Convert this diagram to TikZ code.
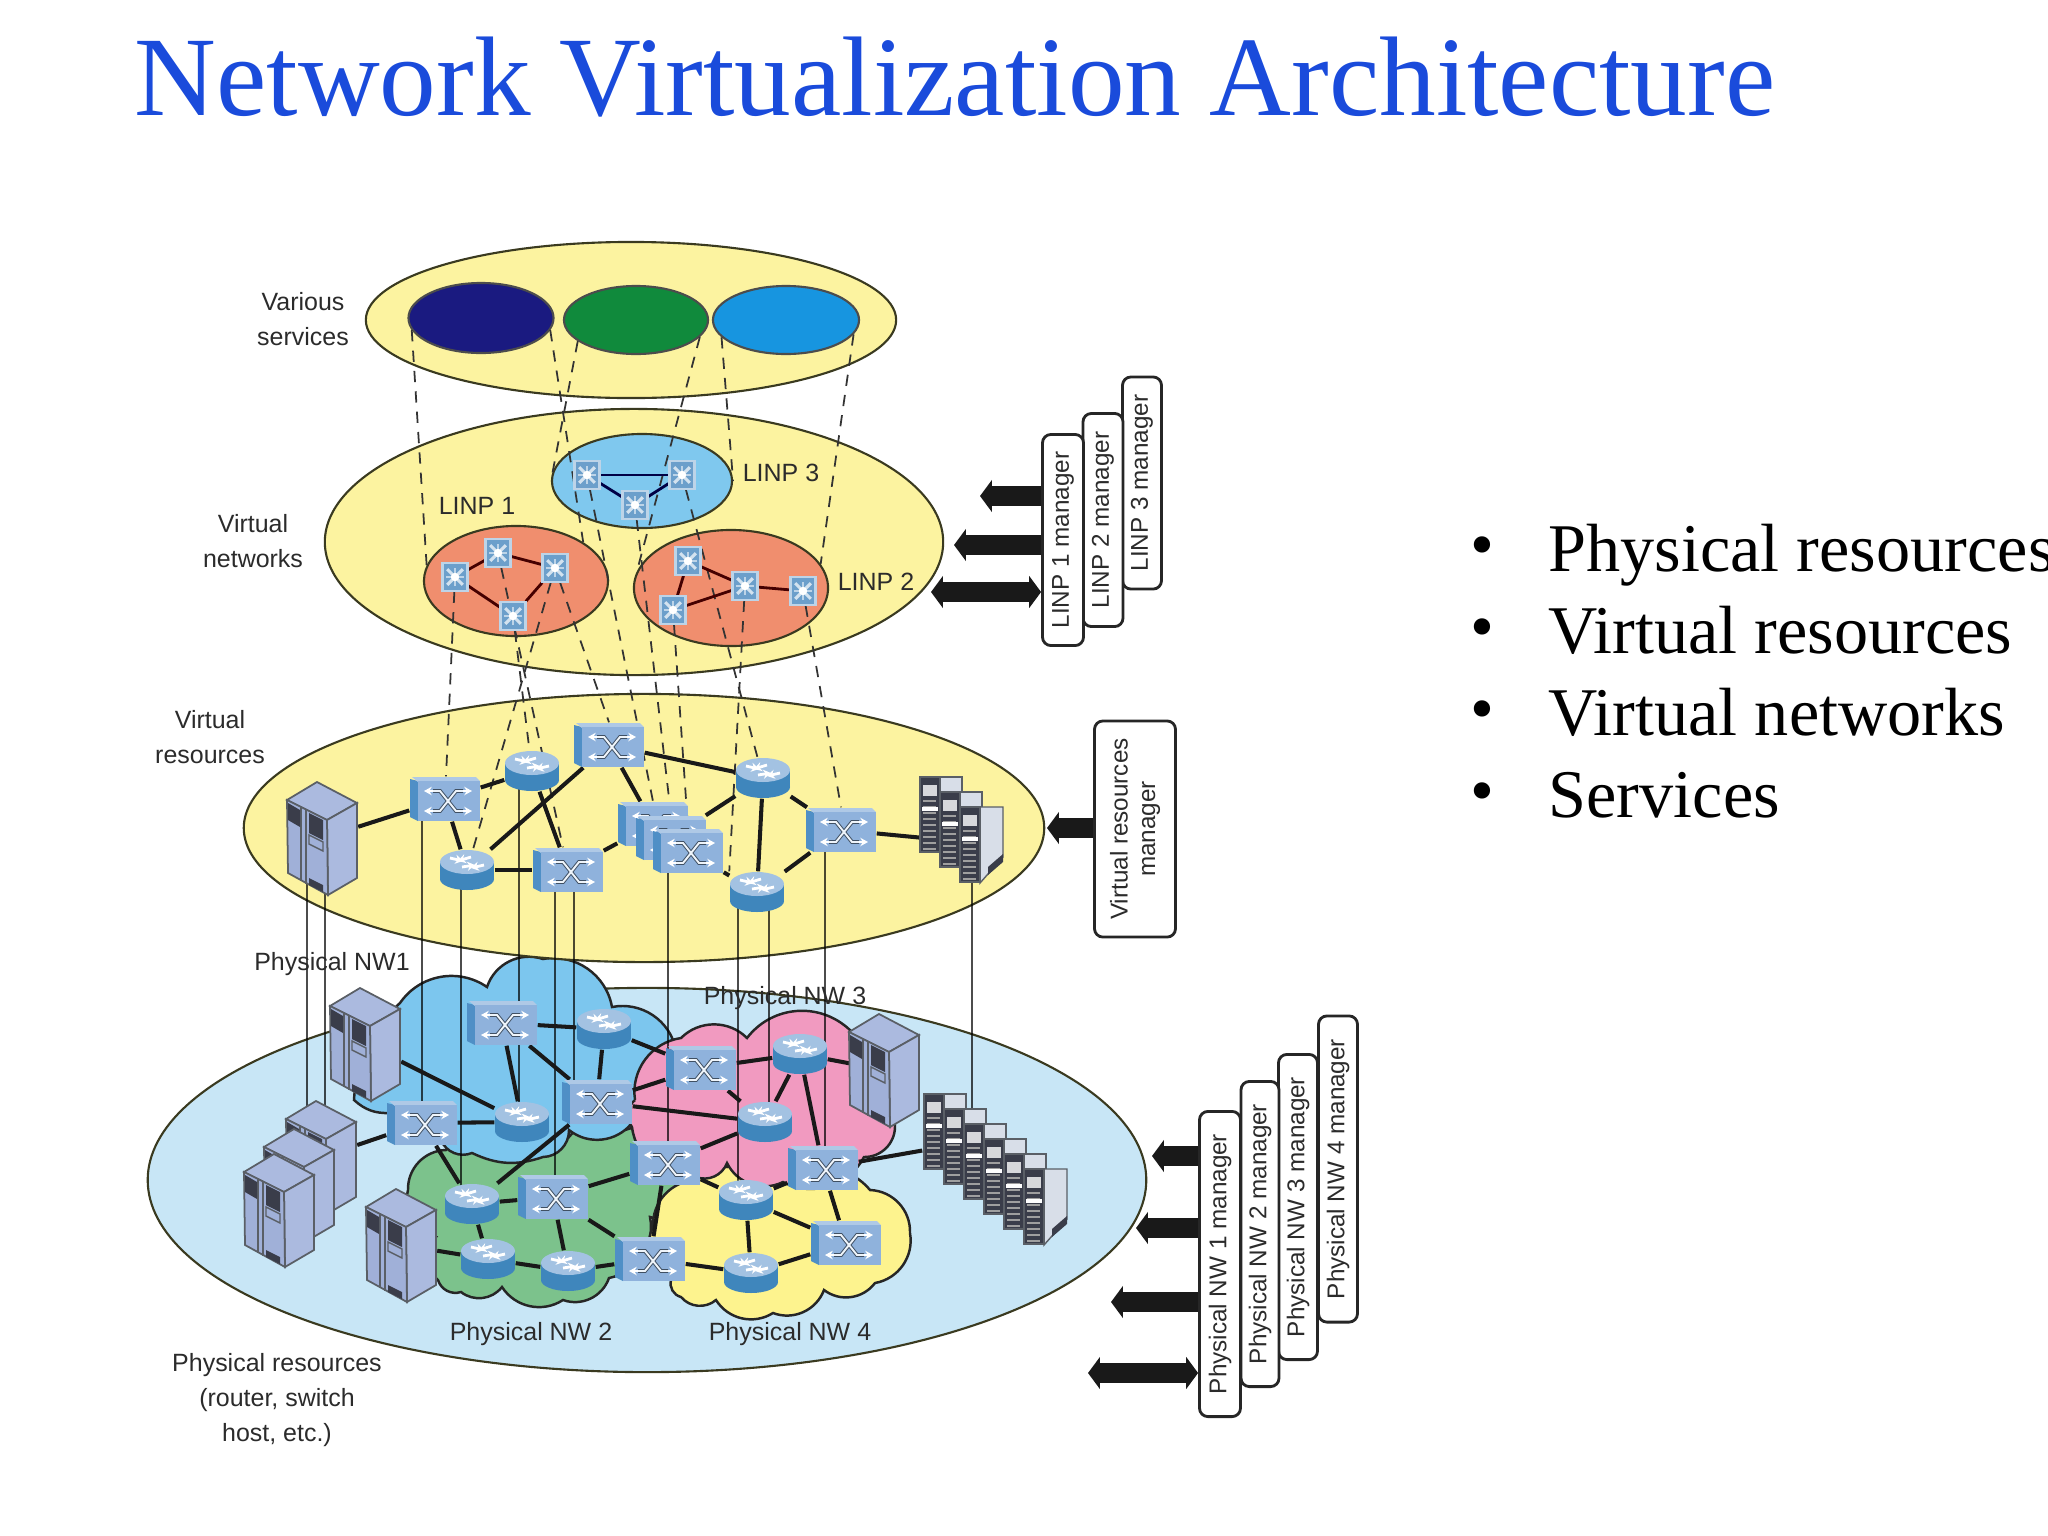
\documentclass[tikz,border=0pt]{standalone}
\usepackage{fontspec}
\usepackage{xcolor}
\usepackage{tikz}
\usetikzlibrary{shapes.geometric,arrows.meta}

\setmainfont{Liberation Serif}
\setsansfont{Liberation Sans}

\definecolor{titleblue}{HTML}{1A4BDB}
\definecolor{layeryellow}{HTML}{FCF3A0}
\definecolor{layerblue}{HTML}{C8E6F6}
\definecolor{ovalline}{HTML}{3A3A20}
\definecolor{svcnavy}{HTML}{1A1A80}
\definecolor{svcgreen}{HTML}{108A3C}
\definecolor{svcblue}{HTML}{1795E0}
\definecolor{linpblue}{HTML}{7FC8EE}
\definecolor{linpred}{HTML}{F08E6E}
\definecolor{nwblue}{HTML}{7CC6EE}
\definecolor{nwpink}{HTML}{F19AC0}
\definecolor{nwgreen}{HTML}{7CC28C}
\definecolor{nwyellow}{HTML}{FDF38E}
\definecolor{swfront}{HTML}{8FB2DC}
\definecolor{swtop}{HTML}{AFC9E6}
\definecolor{swside}{HTML}{4F8FC6}
\definecolor{rttop}{HTML}{A3C2E2}
\definecolor{rtbody}{HTML}{3F86BC}
\definecolor{hostlight}{HTML}{ABBADF}
\definecolor{hostmid}{HTML}{A0B0D8}
\definecolor{hostline}{HTML}{5A5F66}
\definecolor{rackdark}{HTML}{3A3D4A}
\definecolor{racklight}{HTML}{D8DEE8}
\definecolor{starblue}{HTML}{6C9FCB}
\definecolor{labelgray}{HTML}{2B2B2B}

\tikzset{
    oval/.style 2 args={ellipse,draw=ovalline,line width=.6pt,inner sep=0pt,minimum width=#1cm,minimum height=#2cm},
    swspot/.style={inner sep=0pt,minimum width=.70cm,minimum height=.44cm},
    rtspot/.style={inner sep=0pt,minimum width=.54cm,minimum height=.40cm},
    hostspot/.style={inner sep=0pt,minimum width=.69cm,minimum height=1.12cm},
    starspot/.style={inner sep=0pt,minimum width=.25cm,minimum height=.28cm},
    bump/.style={bend left=45},
    flat/.style={bend left=22},
    cloud/.style={draw=black!85,line width=.7pt},
    netlink/.style={draw=black!90,line width=1.15pt},
    redlink/.style={draw=black!55!red!60!black,line width=.8pt},
    navylink/.style={draw=black!40!blue!45!black,line width=.8pt},
    dashlink/.style={draw=black!80,line width=.5pt,dash pattern=on 3.2pt off 2.6pt},
    tie/.style={draw=black,draw opacity=.7,line width=.7pt},
    bigarrow/.style={draw=black!90,line width=5.6pt,-{Triangle[length=3.4pt,width=9pt]}},
    bothways/.style={draw=black!90,line width=5.6pt,{Triangle[length=3.4pt,width=9pt]}-{Triangle[length=3.4pt,width=9pt]}},
    mgrbox/.style={draw=black!85,line width=.8pt,rounded corners=2.4pt,fill=white,rotate=90,inner sep=0pt,
        font=\sffamily\fontsize{6.9}{9.4}\selectfont,text=labelgray,align=center},
    lbl/.style={font=\sffamily\fontsize{7.1}{10}\selectfont,text=labelgray,align=center,inner sep=0pt},
    swicon/.pic={
        \fill[swside] (-35,-20) -- (-27,-18) -- (-27,22) -- (-35,18) -- cycle;
        \fill[swtop] (-33,-22) -- (31,-22) -- (35,-18) -- (-27,-17) -- cycle;
        \fill[swfront] (-27,-18) rectangle (35,22);
        \foreach \c/\w in {black!55!swfront/1.1pt,white!85!swfront/.55pt}{
            \draw[\c,line width=\w] (-12,-8) -- (-5,-8) -- (11,12) -- (18,12);
            \draw[\c,line width=\w] (-12,12) -- (-5,12) -- (11,-8) -- (18,-8);
        }
        \foreach \a/\b in {-12/-21,18/27}{
            \draw[white,line width=.5pt,-{Stealth[length=2.2pt,width=2.4pt]}] (\a,-8) -- (\b,-8);
            \draw[white,line width=.5pt,-{Stealth[length=2.2pt,width=2.4pt]}] (\a,12) -- (\b,12);
        }
    },
    rticon/.pic={
        \fill[rtbody] (-27,-8) rectangle (27,9);
        \fill[rtbody] (0,9) ellipse [x radius=27,y radius=11];
        \fill[rttop] (0,-8) ellipse [x radius=27,y radius=12];
        \foreach \a/\b/\c/\d in {-17/-12/-4/-9,4/-13/-9/-9,-5/-3/8/-5,17/-5/4/-2}{
            \draw[white,line width=.8pt,-{Stealth[length=2.2pt,width=2.6pt]}] (\a,\b) -- (\c,\d);
        }
    },
    staricon/.pic={
        \fill[starblue] (-12.5,-14) rectangle (12.5,14);
        \draw[white!55!starblue,line width=.7pt] (-12.5,-14) rectangle (12.5,14);
        \foreach \a in {45,135}{
            \draw[white!70!starblue,line width=.9pt,rotate=\a] (-11,0) -- (11,0);
        }
        \foreach \a in {0,90}{
            \draw[white!55!starblue,line width=.8pt,rotate=\a] (-9,0) -- (9,0);
        }
        \fill[white] (0,0) circle (4.2);
    },
    hosticon/.pic={
        \draw[hostline,line width=.5pt,fill=hostlight] (-6,-56) -- (34,-35) -- (4,-18) -- (-36,-38) -- cycle;
        \draw[hostline,line width=.5pt,fill=hostlight] (4,-18) -- (34,-35) -- (34,40) -- (5,57) -- cycle;
        \draw[hostline,line width=.5pt,fill=hostmid] (-36,-38) -- (4,-18) -- (5,57) -- (-35,35) -- cycle;
        \draw[hostline,line width=.4pt] (-22,-31) -- (-22,43);
        \draw[hostline,line width=.4pt] (-17,-28) -- (-17,46);
        \fill[rackdark] (-35,-35) -- (-23,-28) -- (-23,-11) -- (-35,-18) -- cycle;
        \fill[rackdark] (-14,-25) -- (0,-18) -- (0,2) -- (-14,-5) -- cycle;
        \draw[hostline,line width=.4pt] (-14,-3) -- (0,4) -- (0,13) -- (-14,6) -- cycle;
        \fill[rackdark] (-14,40) -- (0,47) -- (0,54) -- (-14,47) -- cycle;
    },
    rackbody/.pic={
        \fill[rackdark] (0,0) rectangle (20,75);
        \fill[white!80!rackdark] (3,8) rectangle (17,19);
        \foreach \s in {24,30,...,72}{
            \draw[gray!75,line width=.5pt] (3,\s) -- (16,\s);
        }
        \draw[white,line width=1pt] (2,32) -- (18,32);
        \draw[hostline,line width=.4pt] (0,0) rectangle (20,75);
    },
    rackunit/.pic={
        \draw[hostline,line width=.5pt,fill=racklight] (20,0) rectangle (42,20);
        \pic at (0,0) {rackbody};
    },
    rackend/.pic={
        \draw[hostline,line width=.4pt,fill=racklight] (20,0) -- (43,0) -- (43,50) -- (20,76) -- cycle;
        \fill[rackdark] (28,60) -- (43,47) -- (43,55) -- (28,68) -- cycle;
        \pic at (0,0) {rackbody};
    },
}

\begin{document}
\begin{tikzpicture}[x=.01cm,y=-.01cm]

    \clip (0,0) rectangle (2048,1536);

    % title and bullets
    \node[anchor=base west,inner sep=0pt,text=titleblue,font=\fontsize{32.2}{36}\selectfont] (title) at (134,115) {Network Virtualization Architecture};
    \foreach \n/\y/\t in {ba/571/Physical resources,bb/653/Virtual resources,bc/735/Virtual networks,bd/817/Services}{
        \node[anchor=base,inner sep=0pt,font=\fontsize{19.4}{22}\selectfont] (\n dot) at (1482,\y-4) {•};
        \node[anchor=base west,inner sep=0pt,font=\fontsize{19.4}{22}\selectfont] (\n) at (1548,\y) {\t};
    }

    % layers
    \node[oval={9.98}{3.84},fill=layerblue] (physlayer) at (647,1180) {};

    \draw[cloud,fill=nwgreen] (408,1190) to[bump] (446,1150) to[bump] (569,1137) to[bump] (625,1130) to[bump] (696,1163) to[bump] (681,1203) to[bump] (650,1217) to[bump] (609,1278) to[bump] (563,1300) to[bump] (502,1287) to[bump] (461,1292) to[bump] (438,1280) to[bump] (436,1237) to[bump] (408,1190);
    \draw[cloud,fill=nwyellow] (653,1227) to[bump] (696,1180) to[bump] (727,1167) to[bump] (783,1182) to[bump] (870,1190) to[bump] (910,1233) to[bump] (875,1283) to[bump] (824,1290) to[bump] (773,1313) to[bump] (716,1300) to[bump] (681,1297) to[bump] (671,1280) to[bump] (653,1227);
    \draw[cloud,fill=nwblue] (400,1003) to[bump] (487,987) to[bump] (543,959) to[bump] (612,1007) to[bump] (676,1050) to[bump] (635,1090) to[bump] (632,1123) to[bump] (569,1130) to[bump] (543,1157) to[flat] (472,1153) to[bump] (441,1140) to[bump] (390,1113) to[flat] (354,1100) to[flat] (400,1003);
    \draw[cloud,fill=nwpink] (635,1100) to[bump] (681,1038) to[bump] (747,1038) to[bump] (844,1025) to[bump] (854,1083) to[bump] (895,1127) to[bump] (864,1157) to[bump] (783,1182) to[bump] (727,1163) to[bump] (696,1177) to[bump] (632,1127) to[bump] (635,1100);

    \node[oval={8.00}{2.68},fill=layeryellow] (reslayer) at (644,828) {};
    \node[oval={6.18}{2.66},fill=layeryellow] (netlayer) at (634,542) {};
    \node[oval={5.30}{1.56},fill=layeryellow] (svclayer) at (631,320) {};

    \node[oval={1.45}{.70},fill=svcnavy,draw=black!70] (navy) at (481,318) {};
    \node[oval={1.44}{.68},fill=svcgreen,draw=black!70] (green) at (636,320) {};
    \node[oval={1.46}{.68},fill=svcblue,draw=black!70] (blue) at (786,320) {};

    \node[oval={1.80}{.94},fill=linpblue] (linpc) at (642,481) {};
    \node[oval={1.84}{1.10},fill=linpred] (linpa) at (516,581) {};
    \node[oval={1.94}{1.16},fill=linpred] (linpb) at (731,588) {};

    % spots for the devices
    \foreach \n/\x/\y in {vsa/445/799,vsb/609/745,vsc/841/830,vsd/568/870,vse/653/824,vsf/671/838,vsg/688/851,
        psa/502/1023,psb/597/1102,psc/422/1123,psd/701/1068,pse/665/1163,psf/823/1168,psg/553/1197,psh/650/1259,psi/846/1243}{
        \node[swspot] (\n) at (\x,\y) {};
    }
    \foreach \n/\x/\y in {vra/532/771,vrb/763/778,vrc/467/870,vrd/757/892,
        pra/604/1029,prb/522/1122,prc/800/1054,prd/765/1122,pre/472/1204,prf/488/1259,prg/568/1271,prh/746/1200,pri/751/1273}{
        \node[rtspot] (\n) at (\x,\y) {};
    }
    \foreach \n/\x/\y in {vhost/323/838,pha/366/1044,phb/322/1157,phc/300/1185,phd/280/1210,phe/402/1245,phf/885/1070}{
        \node[hostspot] (\n) at (\x,\y) {};
    }
    \foreach \n/\x/\y in {sta/455/577,stb/498/553,stc/555/568,std/513/616,ste/688/561,stf/745/586,stg/803/591,sth/673/610,sti/587/475,stj/682/475,stk/635/505}{
        \node[starspot] (\n) at (\x,\y) {};
    }
    \node[inner sep=0pt,minimum width=.84cm,minimum height=1.06cm] (vrack) at (962,830) {};
    \node[inner sep=0pt,minimum width=1.44cm,minimum height=1.53cm] (prack) at (995,1170) {};

    % dashed mappings
    \draw[dashlink] (navy.190) -- (linpa.170);
    \draw[dashlink] (navy.-10) -- (linpa.30);
    \draw[dashlink] (green.200) -- (linpc.180);
    \draw[dashlink] (green.-15) -- (linpb.170);
    \draw[dashlink] (blue.195) -- (linpc.0);
    \draw[dashlink] (blue.-12) -- (linpb.15);
    \foreach \a/\b in {sta/vsa,stb/vsd,stc/vrc,std/vra,stc/vsb.north,sti/vse.north,stk/vsf.north,stj/vrb,sth/vsg.north,stf/vrd.north west,stg/vsc.north}{
        \draw[dashlink] (\a) -- (\b);
    }

    % ties between the layers
    \foreach \x/\a/\b in {307/vhost/phb,325/vhost/phb,422/vsa/psc,461/vrc/pre,519/vra/prb,555/vsd/psg,574/vsd/psb,668/vsg/pse,738/vrd/prh,769/vrd/prd,825/vsc/psf,972/vrack/prack}{
        \draw[tie] (\x,0 |- \a) -- (\x,0 |- \b);
    }

    % links inside the layers
    \foreach \a/\b in {vhost/vsa,vsa/vra,vsa/vrc,vra/vsd,vrc/vsb,vsb/vse,vsb/vrb,vrc/vsd,vsd/vse,vrb/vsf,vrb/vsc,vrb/vrd,vsc/vrd,vsg/vrd,vsc/vrack.190,
        pha/prb,psa/pra,psa/prb,psa/psb,pra/psb,pra/psd,psc/prb,psb/psd,psb/prd,psb/pre,psd/prc,prc/phf,psd/prd,prc/prd,prc/psf,prd/pse,pse/psg,pse/psh,pse/prh,psf/prh,psf/psi,psf/prack.165,prh/psi,prh/pri,pri/psi,pri/psh,psc/pre,psc/phb,pre/psg,pre/prf,prf/prg,prf/phe,prg/psg,psg/psh,prg/psh}{
        \draw[netlink] (\a) -- (\b);
    }
    \foreach \a/\b in {sta/stb,stb/stc,sta/std,stc/std,ste/stf,stf/stg,stf/sth,ste/sth}{
        \draw[redlink] (\a) -- (\b);
    }
    \foreach \a/\b in {sti/stj,sti/stk,stj/stk}{
        \draw[navylink] (\a) -- (\b);
    }

    % devices
    \foreach \n in {vsa,vsb,vsc,vsd,vse,vsf,vsg,psa,psb,psc,psd,pse,psf,psg,psh,psi}{
        \pic at (\n) {swicon};
    }
    \foreach \n in {vra,vrb,vrc,vrd,pra,prb,prc,prd,pre,prf,prg,prh,pri}{
        \pic at (\n) {rticon};
    }
    \foreach \n in {vhost,pha,phb,phc,phd,phe,phf}{
        \pic at (\n) {hosticon};
    }
    \foreach \n in {sta,stb,stc,std,ste,stf,stg,sth,sti,stj,stk}{
        \pic at (\n) {staricon};
    }
    \foreach \k in {0,1}{
        \pic at (920+20*\k,777+15*\k) {rackunit};
    }
    \pic at (960,807) {rackend};
    \foreach \k in {0,...,4}{
        \pic at (924+20*\k,1094+15*\k) {rackunit};
    }
    \pic at (1024,1169) {rackend};

    % labels
    \node[lbl] (lblsvc) at (303,319) {Various\\services};
    \node[lbl] (lblnet) at (253,541) {Virtual\\networks};
    \node[lbl] (lblres) at (210,737) {Virtual\\resources};
    \node[lbl] (lblphys) at (277,1400) {Physical resources\\(router, switch\\host, etc.)};
    \node[lbl] (lblnwa) at (332,964) {Physical NW1};
    \node[lbl] (lblnwb) at (531,1334) {Physical NW 2};
    \node[lbl] (lblnwc) at (785,998) {Physical NW 3};
    \node[lbl] (lblnwd) at (790,1334) {Physical NW 4};
    \node[lbl] (lbllinpa) at (477,506) {LINP 1};
    \node[lbl] (lbllinpb) at (876,582) {LINP 2};
    \node[lbl] (lbllinpc) at (781,473) {LINP 3};

    % managers
    \node[mgrbox,minimum width=2.12cm,minimum height=.39cm] (mgrlc) at (1142,483) {LINP 3 manager};
    \node[mgrbox,minimum width=2.13cm,minimum height=.40cm] (mgrlb) at (1103,520) {LINP 2 manager};
    \node[mgrbox,minimum width=2.11cm,minimum height=.41cm] (mgrla) at (1063,540) {LINP 1 manager};
    \node[mgrbox,minimum width=2.16cm,minimum height=.81cm] (mgrres) at (1135,829) {Virtual resources\\[-1.6pt]manager};
    \node[mgrbox,minimum width=3.06cm,minimum height=.39cm] (mgrpd) at (1338,1169) {Physical NW 4 manager};
    \node[mgrbox,minimum width=3.05cm,minimum height=.39cm] (mgrpc) at (1298,1207) {Physical NW 3 manager};
    \node[mgrbox,minimum width=3.05cm,minimum height=.38cm] (mgrpb) at (1260,1234) {Physical NW 2 manager};
    \node[mgrbox,minimum width=3.05cm,minimum height=.41cm] (mgrpa) at (1220,1264) {Physical NW 1 manager};

    \coordinate (tipla) at (980,496);
    \coordinate (tiplb) at (954,545);
    \coordinate (tiplc) at (931,592);
    \coordinate (tipres) at (1047,828);
    \coordinate (tippa) at (1152,1156);
    \coordinate (tippb) at (1136,1228);
    \coordinate (tippc) at (1111,1302);
    \coordinate (tippd) at (1088,1373);
    \draw[bigarrow] (tipla -| mgrla.north) -- (tipla);
    \draw[bigarrow] (tiplb -| mgrla.north) -- (tiplb);
    \draw[bothways] (tiplc -| mgrla.north) -- (tiplc);
    \draw[bigarrow] (tipres -| mgrres.north) -- (tipres);
    \draw[bigarrow] (tippa -| mgrpa.north) -- (tippa);
    \draw[bigarrow] (tippb -| mgrpa.north) -- (tippb);
    \draw[bigarrow] (tippc -| mgrpa.north) -- (tippc);
    \draw[bothways] (tippd -| mgrpa.north) -- (tippd);

\end{tikzpicture}
\end{document}
